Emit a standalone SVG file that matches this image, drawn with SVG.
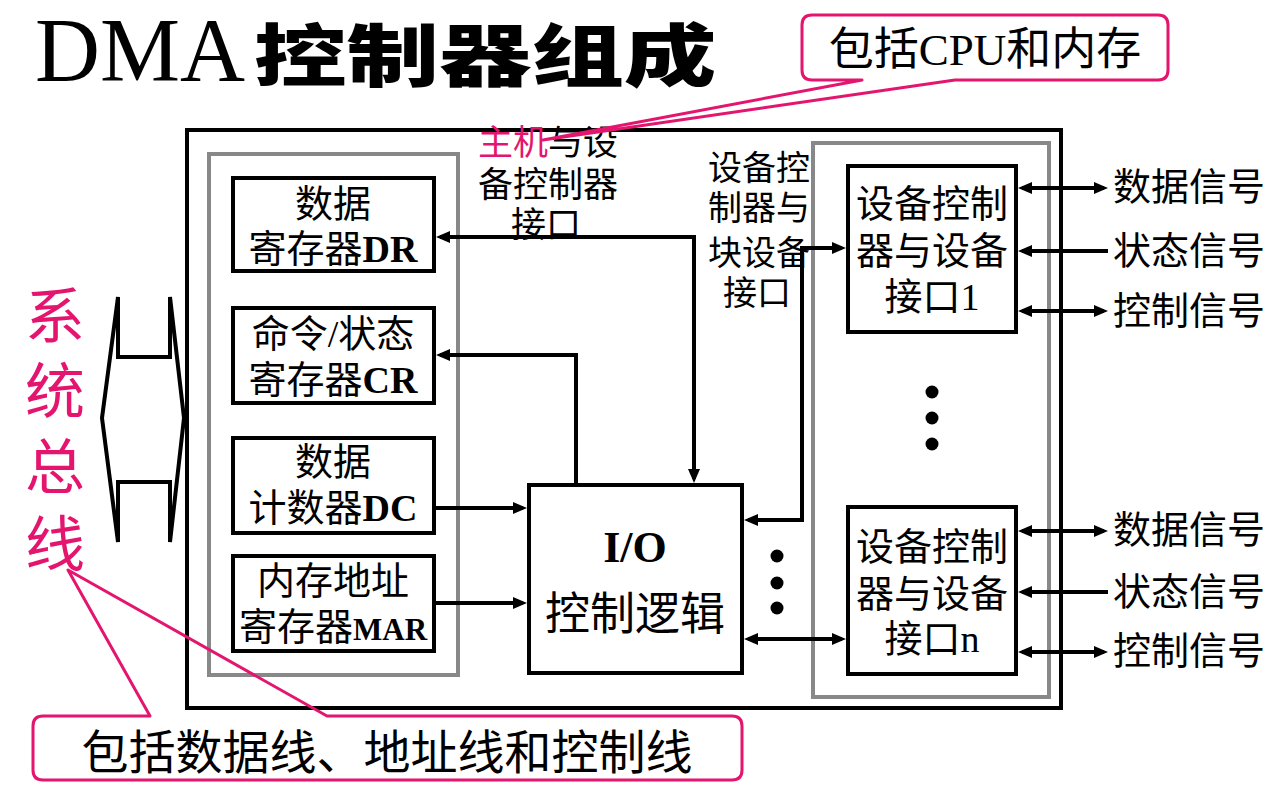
<svg xmlns="http://www.w3.org/2000/svg" width="1287" height="793" viewBox="0 0 1287 793">
<style>
.box{fill:#fff;stroke:#000;stroke-width:4}
.gray{fill:none;stroke:#888;stroke-width:4}
.ln{fill:none;stroke:#000;stroke-width:4}
.t{font-family:"Liberation Serif","Noto Sans CJK SC",serif;fill:#000;text-anchor:middle}
.s{text-anchor:start}
.b{font-weight:bold}
.pink{fill:#E4156E}
.call{fill:none;stroke:#E4156E;stroke-width:3;stroke-linejoin:round}
</style>
<defs>
<marker id="arr" markerUnits="userSpaceOnUse" markerWidth="14" markerHeight="12" refX="10" refY="6" orient="auto-start-reverse">
<path d="M0,0 L14,6 L0,12 z" fill="#000"/>
</marker>
</defs>
<rect width="1287" height="793" fill="#fff"/>

<g id="title">
<text x="35" y="81" font-family="Liberation Serif" font-size="90">DMA</text>
<text transform="translate(254,81) scale(1.36,1)" x="0" y="0" font-family="Noto Sans CJK SC" font-weight="900" font-size="68">控制器组成</text>
</g>

<g id="dma-box">
<rect x="187" y="130" width="874" height="578" class="box" fill="none"/>
<rect x="209" y="154" width="249" height="521" class="gray"/>
<rect x="813" y="143" width="236" height="554" class="gray"/>
</g>

<g id="bus">
<polygon points="118,297 118,357 170,357 170,297 184,418 170,542 170,482 118,482 118,542 102,418" fill="#fff" stroke="#000" stroke-width="4" stroke-linejoin="miter"/>
<text class="t pink" font-size="60" x="55" y="338">系</text>
<text class="t pink" font-size="60" x="55" y="413">统</text>
<text class="t pink" font-size="60" x="55" y="489">总</text>
<text class="t pink" font-size="60" x="55" y="566">线</text>
</g>

<g id="DR">
<rect x="233" y="178" width="201" height="93" class="box"/>
<text class="t" font-size="38" x="333" y="217">数据</text>
<text class="t" font-size="38" x="333" y="262">寄存器<tspan class="b">DR</tspan></text>
</g>
<g id="CR">
<rect x="233" y="308" width="201" height="95" class="box"/>
<text class="t" font-size="38" x="333" y="347">命令/状态</text>
<text class="t" font-size="38" x="333" y="393">寄存器<tspan class="b">CR</tspan></text>
</g>
<g id="DC">
<rect x="233" y="438" width="201" height="95" class="box"/>
<text class="t" font-size="38" x="333" y="475">数据</text>
<text class="t" font-size="38" x="333" y="521">计数器<tspan class="b">DC</tspan></text>
</g>
<g id="MAR">
<rect x="233" y="556" width="201" height="95" class="box"/>
<text class="t" font-size="38" x="333" y="594">内存地址</text>
<text class="t" font-size="38" x="333" y="640">寄存器<tspan class="b" font-size="31">MAR</tspan></text>
</g>

<g id="IO">
<rect x="529" y="485" width="213" height="188" class="box"/>
<text class="t b" font-size="44" x="635" y="562">I/O</text>
<text class="t" font-size="45" x="635" y="630">控制逻辑</text>
</g>

<g id="dev1">
<rect x="848" y="166" width="168" height="166" class="box"/>
<text class="t" font-size="38" x="932" y="217">设备控制</text>
<text class="t" font-size="38" x="932" y="264">器与设备</text>
<text class="t" font-size="38" x="932" y="310">接口1</text>
</g>
<g id="devn">
<rect x="848" y="507" width="168" height="167" class="box"/>
<text class="t" font-size="38" x="932" y="560">设备控制</text>
<text class="t" font-size="38" x="932" y="607">器与设备</text>
<text class="t" font-size="38" x="932" y="652">接口n</text>
</g>

<g id="labels">
<text class="t" font-size="35" x="548" y="155"><tspan class="pink">主机</tspan>与设</text>
<text class="t" font-size="35" x="548" y="197">备控制器</text>
<text class="t" font-size="35" x="546" y="237">接口</text>
<text class="t" font-size="34" x="759" y="180">设备控</text>
<text class="t" font-size="34" x="759" y="220">制器与</text>
<text class="t" font-size="34" x="759" y="265">块设备</text>
<text class="t" font-size="34" x="757" y="305">接口</text>
</g>

<g id="signals">
<text class="t s" font-size="38" x="1113" y="200">数据信号</text>
<text class="t s" font-size="38" x="1113" y="264">状态信号</text>
<text class="t s" font-size="38" x="1113" y="324">控制信号</text>
<text class="t s" font-size="38" x="1113" y="543">数据信号</text>
<text class="t s" font-size="38" x="1113" y="605">状态信号</text>
<text class="t s" font-size="38" x="1113" y="664">控制信号</text>
</g>

<g id="connectors">
<path class="ln" d="M440,237 H694 V479" marker-start="url(#arr)" marker-end="url(#arr)"/>
<path class="ln" d="M576,485 V355 H440" marker-end="url(#arr)"/>
<path class="ln" d="M436,508 H523" marker-end="url(#arr)"/>
<path class="ln" d="M436,603 H523" marker-end="url(#arr)"/>
<path class="ln" d="M842,248 H802 V520 H748" marker-start="url(#arr)" marker-end="url(#arr)"/>
<path class="ln" d="M748,639 H842" marker-start="url(#arr)" marker-end="url(#arr)"/>
<path class="ln" d="M1022,188 H1104" marker-start="url(#arr)" marker-end="url(#arr)"/>
<path class="ln" d="M1022,251 H1108" marker-start="url(#arr)"/>
<path class="ln" d="M1022,311 H1104" marker-start="url(#arr)" marker-end="url(#arr)"/>
<path class="ln" d="M1022,531 H1104" marker-start="url(#arr)" marker-end="url(#arr)"/>
<path class="ln" d="M1022,592 H1108" marker-start="url(#arr)"/>
<path class="ln" d="M1022,652 H1104" marker-start="url(#arr)" marker-end="url(#arr)"/>
</g>

<g id="dots">
<circle cx="777" cy="556" r="6.5"/>
<circle cx="777" cy="583" r="6.5"/>
<circle cx="777" cy="608" r="6.5"/>
<circle cx="932" cy="392" r="6.5"/>
<circle cx="932" cy="418" r="6.5"/>
<circle cx="932" cy="444" r="6.5"/>
</g>

<g id="callout-top">
<path class="call" d="M812,15 H1158 Q1168,15 1168,25 V70 Q1168,80 1158,80 H955 L543,140 L862,80 H812 Q802,80 802,70 V25 Q802,15 812,15 Z"/>
<text class="t" font-size="45" x="985" y="65">包括CPU和内存</text>
</g>

<g id="callout-bottom">
<path class="call" d="M43,716 H150 L68,570 L327,716 H732 Q742,716 742,726 V770 Q742,780 732,780 H43 Q33,780 33,770 V726 Q33,716 43,716 Z"/>
<text class="t" font-size="47" x="387" y="769">包括数据线、地址线和控制线</text>
</g>
</svg>
